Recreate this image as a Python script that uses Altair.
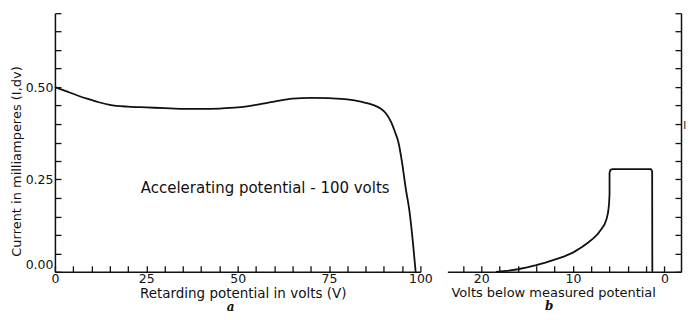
import altair as alt
import pandas as pd

# ---------------- data ----------------
a_volts = [0, 3, 6, 9, 12, 15, 20, 25, 30, 35, 40, 45, 50, 55, 60, 65, 70, 75,
           80, 84, 87, 89, 90.5, 92, 93, 94, 95, 96, 97, 98, 98.7]
a_current = [0.500, 0.489, 0.478, 0.468, 0.459, 0.452, 0.447, 0.445, 0.443, 0.441,
             0.441, 0.442, 0.445, 0.452, 0.461, 0.469, 0.471, 0.470,
             0.467, 0.460, 0.452, 0.443, 0.430, 0.405, 0.380, 0.350, 0.295,
             0.225, 0.165, 0.075, 0.000]

b_volts = [18.4, 17, 16, 15, 14, 13, 12, 11, 10, 9, 8.4, 7.8, 7.3, 6.9, 6.55,
           6.3, 6.15, 6.05, 6.0, 6.0, 5.9, 5.7, 1.5, 1.35, 1.33]
b_current = [0.000, 0.003, 0.007, 0.012, 0.018, 0.025, 0.033, 0.041, 0.052, 0.067,
             0.078, 0.090, 0.102, 0.115, 0.128, 0.145, 0.162, 0.185, 0.210, 0.268,
             0.276, 0.278, 0.278, 0.272, 0.000]

a_x_ticks = list(range(0, 101, 5))
a_x_labels = [0, 25, 50, 75, 100]
y_ticks = [round(0.05 * k, 2) for k in range(15)]
y_labels = [0.0, 0.25, 0.5]
b_x_ticks = list(range(0, 23, 2))
b_x_labels = [20, 10, 0]

title_a_x = "Retarding potential in volts (V)"
title_b_x = "Volts below measured potential"
title_y = "Current in milliamperes (I,dv)"
note_text = ["Accelerating potential - 100 volts"]
side_text = ["l"]
panel_a = "a"
panel_b = "b"

FONT = "DejaVu Sans"
INK = "#111111"

df_a = pd.DataFrame({"volts": a_volts, "current": a_current})
df_b = pd.DataFrame({"volts": b_volts, "current": b_current})
df_note = pd.DataFrame({"t": note_text})
df_side = pd.DataFrame({"t": side_text})

xa_scale = alt.Scale(domain=[0, 100], nice=False, zero=False)
y_scale = alt.Scale(domain=[0, 0.7], nice=False, zero=False)
xb_scale = alt.Scale(domain=[-1.8, 23.7], nice=False, zero=False, reverse=True)

panel_title = dict(orient="bottom", font="DejaVu Serif", fontStyle="italic",
                   fontWeight="bold", fontSize=12, offset=2, color=INK)

# ---------------- panel a ----------------
line_a = alt.Chart(df_a).mark_line(color=INK, strokeWidth=1.8, interpolate="monotone").encode(
    x=alt.X("volts:Q", scale=xa_scale,
            axis=alt.Axis(orient="bottom", values=a_x_labels, ticks=False, format="d",
                          title=title_a_x, titleX=188, titleFontSize=13.5,
                          labelPadding=1, titlePadding=1, labelFlush=False)),
    y=alt.Y("current:Q", scale=y_scale,
            axis=alt.Axis(orient="left", values=y_labels, ticks=False, format=".2f",
                          title=title_y, titleY=148, titleFontSize=13,
                          labelPadding=2, titlePadding=2, labelFlush=True)),
)
ticks_a = alt.Chart(df_a).mark_line(opacity=0).encode(
    x=alt.X("volts:Q", scale=xa_scale,
            axis=alt.Axis(orient="bottom", values=a_x_ticks, labels=False, domain=False,
                          tickSize=6, offset=-6, title=None)),
    y=alt.Y("current:Q", scale=y_scale,
            axis=alt.Axis(orient="left", values=y_ticks, labels=False, domain=False,
                          tickSize=6, offset=-6, title=None)),
)
note = alt.Chart(df_note).mark_text(align="left", baseline="middle", font=FONT,
                                    fontSize=15, color=INK).encode(
    text="t:N",
    x=alt.XDatum(23.5, type="quantitative", axis=None),
    y=alt.YDatum(0.227, type="quantitative", axis=None),
)

pa = alt.layer(line_a, ticks_a, note).resolve_axis(x="independent", y="independent").properties(
    width=366, height=259,
    title=alt.TitleParams(panel_a, dx=-7, **panel_title),
)

# ---------------- panel b ----------------
line_b = alt.Chart(df_b).mark_line(color=INK, strokeWidth=1.8, interpolate="linear").encode(
    x=alt.X("volts:Q", scale=xb_scale,
            axis=alt.Axis(orient="bottom", values=b_x_labels, ticks=False, format="d",
                          title=title_b_x, titleX=106, titleFontSize=13,
                          labelPadding=1, titlePadding=1, labelFlush=False)),
    y=alt.Y("current:Q", scale=y_scale,
            axis=alt.Axis(orient="right", values=y_labels, ticks=False, labels=False,
                          title=None)),
)
ticks_b = alt.Chart(df_b).mark_line(opacity=0).encode(
    x=alt.X("volts:Q", scale=xb_scale,
            axis=alt.Axis(orient="bottom", values=b_x_ticks, labels=False, domain=False,
                          tickSize=6, offset=-6, title=None)),
    y=alt.Y("current:Q", scale=y_scale,
            axis=alt.Axis(orient="right", values=y_ticks, labels=False, domain=False,
                          tickSize=6, offset=-6, title=None)),
)
side = alt.Chart(df_side).mark_text(align="center", baseline="middle", font=FONT,
                                    fontSize=11, color=INK).encode(
    text="t:N",
    x=alt.XDatum(-2.2, type="quantitative", axis=None),
    y=alt.YDatum(0.395, type="quantitative", axis=None),
)
pb = alt.layer(line_b, ticks_b, side).resolve_axis(x="independent", y="independent").properties(
    width=234, height=259,
    title=alt.TitleParams(panel_b, dx=-15, **panel_title),
)

chart = alt.hconcat(pa, pb, spacing=27, bounds="flush").properties(
    padding={"left": 2, "top": 4, "right": 0, "bottom": 0}
).configure_view(stroke=None).configure_axis(
    grid=False,
    labelFont=FONT, titleFont=FONT, labelFontSize=12.5, titleFontSize=13,
    titleFontWeight="normal", domainColor=INK, tickColor=INK, labelColor=INK,
    titleColor=INK, domainWidth=1.5, tickWidth=1.3,
)

chart.save("out.html", embed_options={"renderer": "svg", "actions": False})
